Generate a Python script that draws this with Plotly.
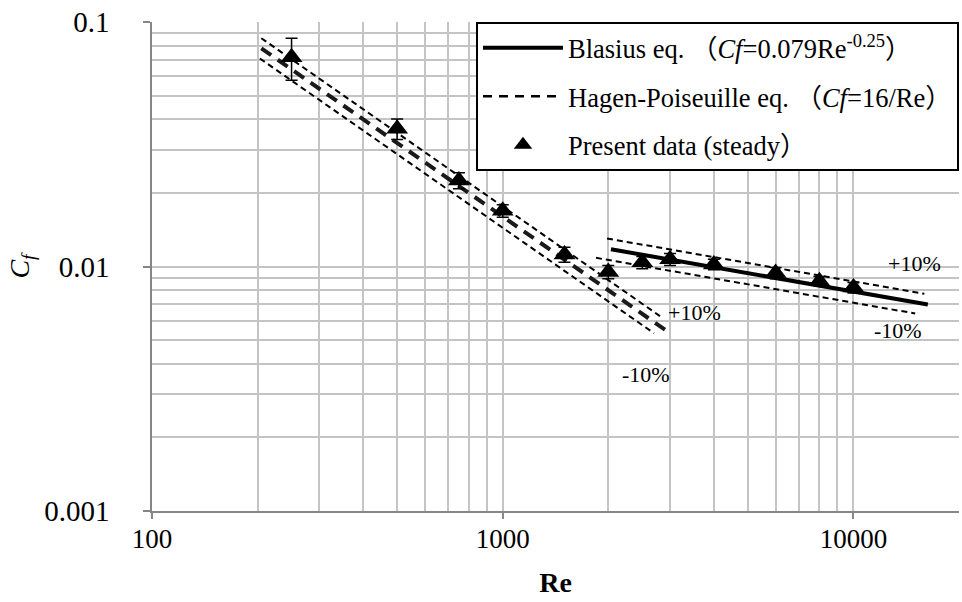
import numpy as np
import plotly.graph_objects as go

# Measured friction coefficient (steady flow)
re_data = [250, 500, 750, 1000, 1500, 2000, 2500, 3000, 4000, 6000, 8000, 10000]
cf_data = [0.0718, 0.0366, 0.0225, 0.0169, 0.0112, 0.0095, 0.0104, 0.0107, 0.0102, 0.0094, 0.0087, 0.0082]
cf_err = [0.014, 0.0035, 0.0017, 0.0010, 0.0008, 0.0006, 0.0006, 0.0006, 0.0005, 0.0005, 0.0004, 0.0004]

# Reynolds-number spans of the reference correlations and their +/-10% bands
hp_span = [205, 2930]
hp_up_span = [205, 2810]
hp_lo_span = [203, 2700]
bl_span = [2035, 16300]
bl_up_span = [1983, 15930]
bl_lo_span = [1845, 15000]
band = 0.10

x_ticks = [100, 1000, 10000]
y_ticks = [0.001, 0.01, 0.1]


def hagen(re):
    re = np.asarray(re, dtype=float)
    return 16.0 / re


def blasius(re):
    re = np.asarray(re, dtype=float)
    return 0.079 * re ** -0.25


SERIF = "Liberation Serif, Times New Roman, Noto Sans CJK JP, serif"
band_line = dict(color="black", width=2, dash="6px,4px")

fig = go.Figure()

# Blasius correlation (turbulent)
fig.add_trace(go.Scatter(
    x=bl_span, y=blasius(bl_span), mode="lines",
    line=dict(color="black", width=4),
    name="Blasius eq. （<i>Cf</i>=0.079Re<sup>-0.25</sup>）",
    legendgroup="a",
))
# Hagen-Poiseuille correlation (laminar)
fig.add_trace(go.Scatter(
    x=hp_span, y=hagen(hp_span), mode="lines",
    line=dict(color="#1a1a1a", width=4, dash="12px,8px"),
    showlegend=False,
))
# Legend entry for Hagen-Poiseuille with the thin dashed style
fig.add_trace(go.Scatter(
    x=[None], y=[None], mode="lines",
    line=dict(color="black", width=2.5, dash="9px,7px"),
    name="Hagen-Poiseuille eq. （<i>Cf</i>=16/Re）",
    legendgroup="b",
))
# +/-10% bands
fig.add_trace(go.Scatter(x=hp_up_span, y=hagen(hp_up_span) * (1 + band), mode="lines",
                         line=band_line, showlegend=False))
fig.add_trace(go.Scatter(x=hp_lo_span, y=hagen(hp_lo_span) * (1 - band), mode="lines",
                         line=band_line, showlegend=False))
fig.add_trace(go.Scatter(x=bl_up_span, y=blasius(bl_up_span) * (1 + band), mode="lines",
                         line=band_line, showlegend=False))
fig.add_trace(go.Scatter(x=bl_lo_span, y=blasius(bl_lo_span) * (1 - band), mode="lines",
                         line=band_line, showlegend=False))

# Measured data with error bars
fig.add_trace(go.Scatter(
    x=re_data, y=cf_data, mode="markers",
    marker=dict(symbol="triangle-up", size=19, color="black"),
    error_y=dict(type="data", array=cf_err, color="black", thickness=1.5, width=6),
    name="Present data (steady）",
    legendgroup="c",
))

band_font = dict(family=SERIF, size=22, color="black")
L, R, T, B = 152, 959, 22, 511


def px(xp, yp):
    return (xp - L) / (R - L), (B - yp) / (B - T)


for label, (xp, yp) in [("+10%", (694, 312)), ("-10%", (646, 374)),
                        ("+10%", (914, 263)), ("-10%", (898, 330))]:
    ax, ay = px(xp, yp)
    fig.add_annotation(x=ax, y=ay, xref="paper", yref="paper", text=label,
                       xanchor="center", yanchor="middle",
                       showarrow=False, font=band_font)

grid = dict(showgrid=True, gridcolor="#c4c4c4", gridwidth=1.5)
minor = dict(dtick="D1", showgrid=True, gridcolor="#c4c4c4", gridwidth=1.5, ticks="")

fig.update_xaxes(
    type="log", range=[2, np.log10(20000)],
    tickvals=x_ticks, ticktext=[str(v) for v in x_ticks],
    ticks="outside", ticklen=6, tickcolor="#868686", tickwidth=1.5,
    showline=True, linecolor="#868686", linewidth=1.5,
    minor=minor, ticklabelstandoff=-3,
    tickfont=dict(family=SERIF, size=27, color="black"),
    title=dict(text="<b>Re</b>", font=dict(family=SERIF, size=28, color="black"), standoff=19),
    zeroline=False, **grid,
)
fig.update_yaxes(
    type="log", range=[-3, -1],
    tickvals=y_ticks, ticktext=["0.001", "0.01", "0.1"],
    ticks="outside", ticklen=7, tickcolor="#868686", tickwidth=1.5,
    showline=True, linecolor="#868686", linewidth=1.5,
    minor=minor, ticklabelstandoff=28,
    tickfont=dict(family=SERIF, size=29, color="black"),
    title=dict(text="<i>C<sub>f</sub></i>", font=dict(family=SERIF, size=28, color="black"), standoff=6),
    zeroline=False, **grid,
)

fig.update_layout(
    width=962, height=602,
    margin=dict(l=L, r=962 - R, t=T, b=602 - B),
    paper_bgcolor="white", plot_bgcolor="white",
    showlegend=True,
    legend=dict(
        x=1, y=1, xanchor="right", yanchor="top",
        bgcolor="white", bordercolor="black", borderwidth=2,
        font=dict(family=SERIF, size=26.5, color="black"),
        itemwidth=80, traceorder="grouped", tracegroupgap=11,
    ),
)

fig.write_html("out.html")
